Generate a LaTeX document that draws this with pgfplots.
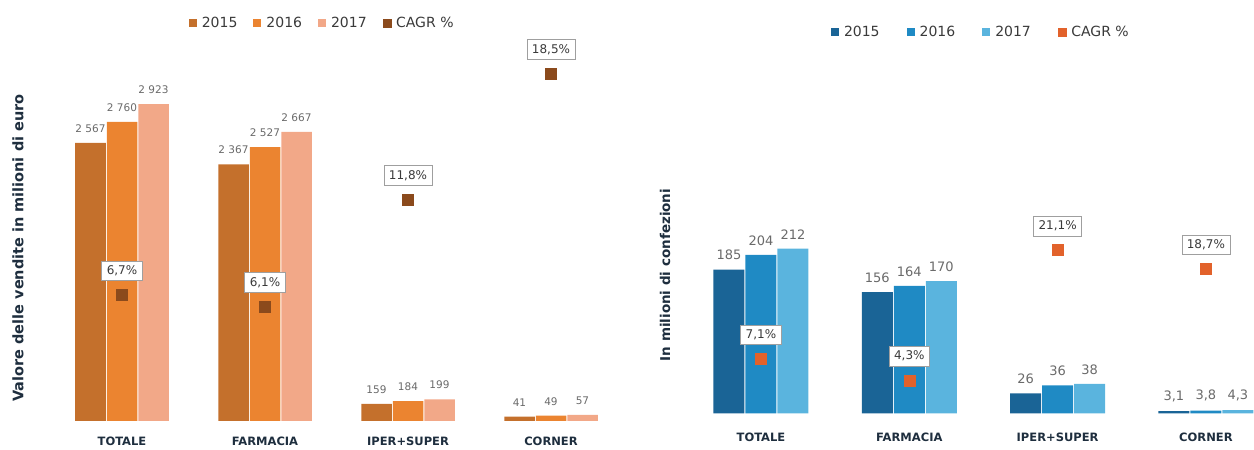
\documentclass[border=0pt]{standalone}
\usepackage{fontspec}
\setmainfont{DejaVu Sans}
\usepackage{pgfplots}
\usepackage{pgfplotstable}
\pgfplotsset{compat=1.18}
\definecolor{oA}{HTML}{C4702C}
\definecolor{oB}{HTML}{EB8430}
\definecolor{oC}{HTML}{F2A888}
\definecolor{oM}{HTML}{8B4A1C}
\definecolor{bA}{HTML}{1A6496}
\definecolor{bB}{HTML}{1F8AC4}
\definecolor{bC}{HTML}{5AB4DE}
\definecolor{bM}{HTML}{E2622B}
\definecolor{lab}{HTML}{1E2E3E}
\definecolor{num}{HTML}{6A6A6A}
\definecolor{leg}{HTML}{3A3A3A}

\pgfplotstableread{
x y15 y16 y17 cagr
0 2567 2760 2923 6.7
1 2367 2527 2667 6.1
2 159 184 199 11.8
3 41 49 57 18.5
}\vendite
\pgfplotstableread{
x y15 y16 y17 cagr
0 185 204 212 7.1
1 156 164 170 4.3
2 26 36 38 21.1
3 3.1 3.8 4.3 18.7
}\confezioni

\pgfplotsset{
 common/.style={scale only axis, xmin=-0.6, ymin=0, axis line style={draw=none},
   major tick length=0pt, ytick=\empty, xtick={0,1,2,3},
   xticklabels={TOTALE,FARMACIA,IPER+SUPER,CORNER},
   xticklabel style={font=\fontsize{11.5}{13}\selectfont\bfseries, text=lab},
   clip=false, legend columns=4},
 cagrlayer/.style={scale only axis, xmin=-0.6, ymin=0, hide axis, clip=false},
 sq/.style={legend image code/.code={\fill[#1] (0pt,-4pt) rectangle (8pt,4pt);}},
 barlab/.style={nodes near coords={\pgfmathprintnumber[assume math mode=true,use comma,1000 sep={\ }]{\pgfplotspointmeta}},
   nodes near coords style={text=num, yshift=#1}},
 cagrlab/.style={only marks, mark=square*, mark size=5.5pt, mark options={fill=#1, draw=#1},
   nodes near coords={\pgfmathprintnumber[fixed,precision=1,use comma,assume math mode=true]{\pgfplotspointmeta}\%},
   nodes near coords style={anchor=center, yshift=24pt, draw=gray!75, fill=white, text=leg,
     font=\fontsize{12}{14}\selectfont, inner xsep=5pt, inner ysep=4.5pt, line width=0.6pt}},
}

\begin{document}
\begin{tikzpicture}
\useasboundingbox (0,0) rectangle (1254pt,450pt);
% ---------- left panel ----------
\begin{axis}[common, at={(36.2pt,29pt)}, anchor=south west, width=572pt, height=381pt,
  xmax=3.4, ymax=3515, ybar=1pt, bar width=30.5pt,
  xticklabel style={yshift=-12pt},
  every node near coord/.append style={font=\fontsize{10.5}{12}\selectfont},
  legend style={at={(axis description cs:0.5,1.045)}, anchor=center, draw=none, fill=none,
    font=\fontsize{14}{16}\selectfont, text=leg,
    /tikz/every odd column/.append style={column sep=3pt},
    /tikz/every even column/.append style={column sep=14pt}}]
\addplot[fill=oA, draw=none, sq=oA, barlab=7pt] table[x=x,y=y15]{\vendite};
\addplot[fill=oB, draw=none, sq=oB, barlab=7pt] table[x=x,y=y16]{\vendite};
\addplot[fill=oC, draw=none, sq=oC, barlab=7pt] table[x=x,y=y17]{\vendite};
\addlegendimage{sq=oM}
\legend{2015,2016,2017,CAGR \%}
\end{axis}
\begin{axis}[cagrlayer, at={(36.2pt,29pt)}, anchor=south west, width=572pt, height=381pt,
  xmax=3.4, ymax=20.28]
\addplot[cagrlab=oM] table[x=x,y=cagr]{\vendite};
\end{axis}
% ---------- right panel ----------
\begin{axis}[common, at={(672pt,36.5pt)}, anchor=south west, width=578.4pt, height=373.5pt,
  xmax=3.3, ymax=480, ybar=1pt, bar width=31pt,
  xticklabel style={yshift=-16pt},
  every node near coord/.append style={font=\fontsize{13}{15}\selectfont},
  legend style={at={(axis description cs:0.534,1.0214)}, anchor=center, draw=none, fill=none,
    font=\fontsize{14}{16}\selectfont, text=leg,
    /tikz/every odd column/.append style={column sep=3pt},
    /tikz/every even column/.append style={column sep=25pt}}]
\addplot[fill=bA, draw=none, sq=bA, barlab=6pt] table[x=x,y=y15]{\confezioni};
\addplot[fill=bB, draw=none, sq=bB, barlab=6pt] table[x=x,y=y16]{\confezioni};
\addplot[fill=bC, draw=none, sq=bC, barlab=6pt] table[x=x,y=y17]{\confezioni};
\addlegendimage{sq=bM}
\legend{2015,2016,2017,CAGR \%}
\end{axis}
\begin{axis}[cagrlayer, at={(672pt,36.5pt)}, anchor=south west, width=578.4pt, height=373.5pt,
  xmax=3.3, ymax=48.26]
\addplot[cagrlab=bM] table[x=x,y=cagr]{\confezioni};
\end{axis}
% axis titles
\node[rotate=90, font=\fontsize{14.5}{16}\selectfont\bfseries, text=lab] at (18pt,202pt) {Valore delle vendite in milioni di euro};
\node[rotate=90, font=\fontsize{13.5}{15}\selectfont\bfseries, text=lab] at (665pt,175pt) {In milioni di confezioni};
\end{tikzpicture}
\end{document}
